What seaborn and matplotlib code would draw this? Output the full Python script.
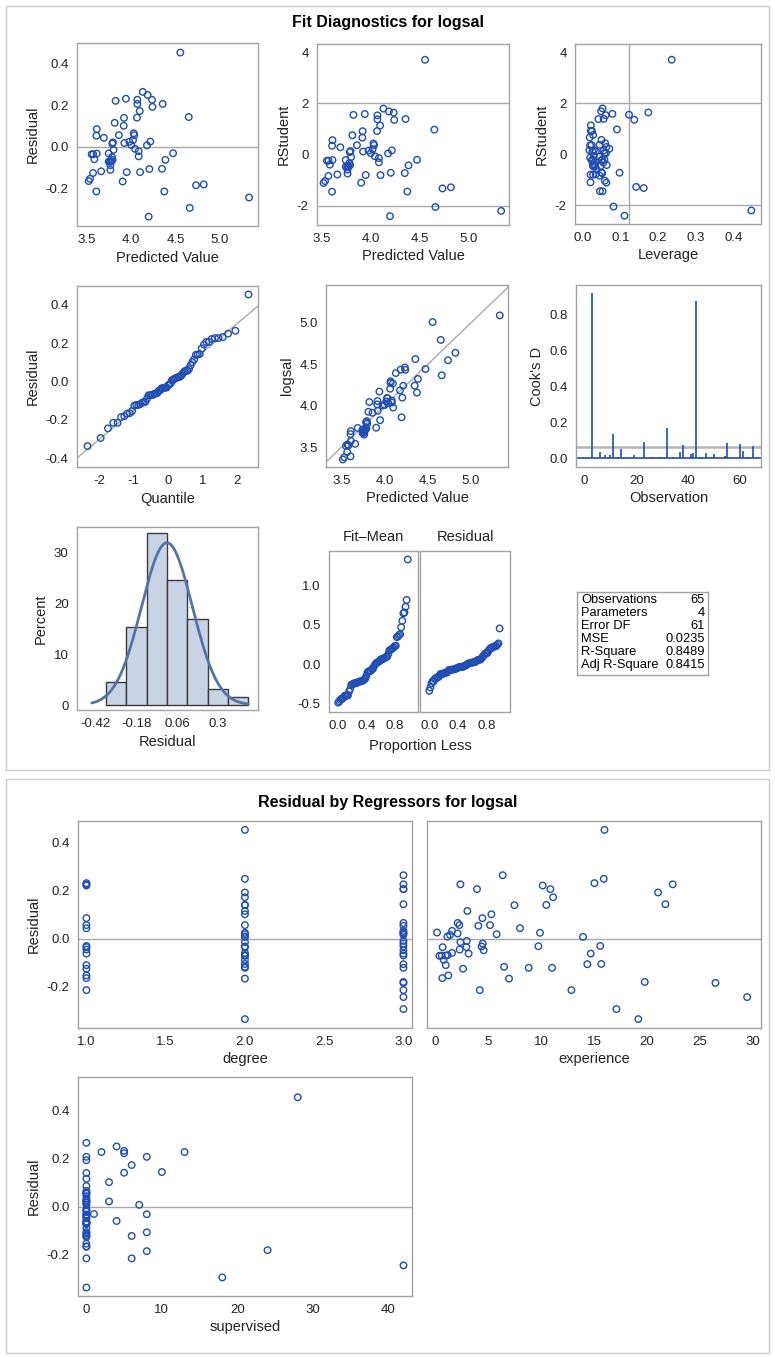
import numpy as np
import pandas as pd
import seaborn as sns
import matplotlib.pyplot as plt
from matplotlib.patches import Rectangle
from statistics import NormalDist

# ---- data (observation order 1..65) ----
residual = [0.015, -0.072, -0.244, 0.056, -0.033, 0.249, 0.115, -0.165, -0.063, -0.154,
            0.226, 0.025, 0.172, 0.231, -0.122, -0.010, -0.069, 0.053, 0.206, -0.021,
            0.140, -0.089, -0.294, -0.036, 0.085, -0.111, 0.021, -0.049, 0.139, -0.071,
            0.043, -0.336, 0.008, -0.118, -0.032, 0.101, 0.226, 0.192, -0.071, 0.056,
            -0.215, 0.206, 0.453, -0.031, -0.107, 0.024, -0.215, -0.060, -0.126, 0.143,
            -0.046, 0.065, -0.063, -0.106, -0.185, 0.018, -0.036, -0.122, 0.007, 0.221,
            0.264, 0.032, -0.167, -0.015, -0.181]
predicted = [3.786, 3.76, 5.332, 3.86, 3.61, 4.186, 3.813, 3.519, 3.79, 3.534,
             4.235, 4.216, 4.096, 3.94, 3.949, 4.043, 3.775, 3.606, 4.069, 4.084,
             4.065, 3.764, 4.661, 3.553, 3.61, 3.764, 3.794, 3.783, 3.918, 3.77,
             3.69, 4.197, 4.001, 3.66, 3.745, 3.915, 4.069, 4.24, 3.745, 4.035,
             4.374, 4.356, 4.555, 4.473, 4.205, 3.979, 3.606, 3.583, 3.568, 4.65,
             4.084, 4.028, 4.386, 4.348, 4.733, 3.922, 3.57, 4.10, 4.178, 3.824,
             4.13, 4.02, 3.903, 3.80, 4.819]
leverage = [0.026, 0.028, 0.447, 0.024, 0.028, 0.049, 0.028, 0.063, 0.027, 0.059,
            0.174, 0.018, 0.022, 0.079, 0.021, 0.030, 0.030, 0.020, 0.042, 0.020,
            0.022, 0.037, 0.082, 0.050, 0.050, 0.052, 0.055, 0.055, 0.025, 0.033,
            0.063, 0.111, 0.058, 0.035, 0.058, 0.019, 0.061, 0.137, 0.047, 0.045,
            0.046, 0.056, 0.236, 0.052, 0.050, 0.030, 0.053, 0.032, 0.045, 0.091,
            0.035, 0.060, 0.064, 0.098, 0.162, 0.035, 0.024, 0.028, 0.062, 0.123,
            0.053, 0.071, 0.021, 0.045, 0.142]
degree = [3, 2, 3, 1, 2, 2, 2, 1, 1, 1, 3, 3, 2, 1, 2, 3, 2, 3, 3, 3,
          2, 2, 3, 2, 1, 1, 3, 3, 2, 2, 1, 2, 2, 2, 3, 2, 1, 2, 3, 2,
          1, 3, 2, 1, 3, 2, 3, 2, 1, 3, 1, 3, 3, 2, 3, 2, 1, 3, 2, 1,
          3, 3, 2, 2, 3]
experience = [1.39, 0.38, 29.5, 2.27, 4.38, 15.93, 3.03, 0.66, 3.15, 1.23,
              22.46, 0.16, 11.14, 15.05, 8.83, 2.97, 1.17, 4.07, 3.94, 4.48,
              10.5, 0.79, 17.13, 2.93, 4.45, 0.98, 2.11, 4.57, 7.48, 0.6,
              8.01, 19.2, 1.14, 6.5, 9.75, 5.3, 2.37, 21.07, 0.98, 5.17,
              4.2, 10.88, 16.0, 15.6, 14.38, 9.9, 12.87, 1.58, 2.62, 21.77,
              2.3, 2.11, 14.7, 15.7, 26.5, 5.8, 0.69, 11.04, 13.97, 10.16,
              6.37, 1.58, 6.97, 2.37, 19.81]
supervised = [0, 0, 42, 0, 0, 4, 0, 0, 0, 0, 13, 0, 6, 5, 6, 0, 0, 0, 8, 0,
              5, 0, 18, 0, 0, 0, 3, 0, 0, 0, 0, 0, 0, 0, 8, 3, 2, 0, 0, 0,
              6, 0, 28, 1, 8, 0, 0, 4, 0, 10, 0, 0, 0, 0, 8, 0, 0, 0, 7, 5,
              0, 0, 0, 0, 24]

hist_edges = [-0.36, -0.24, -0.12, 0.0, 0.12, 0.24, 0.36, 0.48]
stat_labels = ["Observations", "Parameters", "Error DF", "MSE", "R-Square", "Adj R-Square"]
stat_values = ["65", "4", "61", "0.0235", "0.8489", "0.8415"]

# ---- derived regression diagnostics ----
df = pd.DataFrame({"obs": np.arange(1, len(residual) + 1), "resid": residual,
                   "pred": predicted, "lev": leverage, "degree": degree,
                   "experience": experience, "supervised": supervised})
n, p = len(df), 4
sse = (df.resid ** 2).sum()
mse = sse / (n - p)
s_i = np.sqrt((sse - df.resid ** 2 / (1 - df.lev)) / (n - p - 1))
df["rstudent"] = df.resid / (s_i * np.sqrt(1 - df.lev))
df["cooksd"] = df.resid ** 2 / (p * mse) * df.lev / (1 - df.lev) ** 2
df["logsal"] = df.pred + df.resid
df["fitmean"] = df.pred - df.logsal.mean()

nd = NormalDist()
qq = pd.DataFrame({"resid": np.sort(df.resid)})
qq["quantile"] = [nd.inv_cdf((i + 1 - 0.375) / (n + 0.25)) for i in range(n)]
prop = np.arange(n) / n

# ---- style ----
sns.set_style("white")
plt.rcParams["font.family"] = ["Liberation Sans", "DejaVu Sans"]
plt.rcParams["axes.unicode_minus"] = False

BLUE = "#1f4db3"
GRAY = "#a9a9a9"
FRAME = "#a3a3a3"
TXT = "#222222"

W, H = 775, 1358
fig = plt.figure(figsize=(W / 100, H / 100), dpi=100)


def place(l, t, r, b):
    ax = fig.add_axes([l / W, 1 - b / H, (r - l) / W, (b - t) / H])
    for s in ax.spines.values():
        s.set_color(FRAME)
        s.set_linewidth(1.0)
    ax.tick_params(direction="out", length=4, width=1, color=FRAME,
                   labelsize=9.5, labelcolor=TXT, pad=2)
    return ax


def dots(ax, x, y):
    sns.scatterplot(x=x, y=y, ax=ax, marker="o", s=22, facecolor="none",
                    edgecolor=BLUE, linewidth=1.0, legend=False, zorder=3)


def labels(ax, xl, yl):
    ax.set_xlabel(xl, fontsize=10.5, color=TXT, labelpad=3)
    ax.set_ylabel(yl, fontsize=10.5, color=TXT, labelpad=4)


# outer boxes and titles
fig.patches.append(Rectangle((6 / W, 1 - 770 / H), 763 / W, 764 / H, transform=fig.transFigure,
                             fill=False, edgecolor="#cccccc", lw=1))
fig.patches.append(Rectangle((6 / W, 1 - 1353 / H), 763 / W, 574 / H, transform=fig.transFigure,
                             fill=False, edgecolor="#cccccc", lw=1))
fig.text(388 / W, 1 - 22 / H, "Fit Diagnostics for logsal", ha="center", va="center",
         fontsize=11.5, fontweight="bold", color="black")
fig.text(388 / W, 1 - 803 / H, "Residual by Regressors for logsal", ha="center", va="center",
         fontsize=11.5, fontweight="bold", color="black")

# 1: residual vs predicted
ax = place(77, 43, 258, 226)
ax.axhline(0, color=GRAY, lw=1)
dots(ax, df.pred, df.resid)
ax.set_xlim(3.387, 5.433); ax.set_ylim(-0.381, 0.499)
ax.set_xticks([3.5, 4.0, 4.5, 5.0]); ax.set_yticks([-0.2, 0.0, 0.2, 0.4])
ax.set_yticklabels(["-0.2", "0.0", "0.2", "0.4"])
labels(ax, "Predicted Value", "Residual")

# 2: rstudent vs predicted
ax = place(317, 44, 509, 225)
for v in (-2, 2):
    ax.axhline(v, color=GRAY, lw=1)
dots(ax, df.pred, df.rstudent)
ax.set_xlim(3.452, 5.412); ax.set_ylim(-2.75, 4.32)
ax.set_xticks([3.5, 4.0, 4.5, 5.0]); ax.set_yticks([-2, 0, 2, 4])
labels(ax, "Predicted Value", "RStudent")

# 3: rstudent vs leverage
ax = place(575, 44, 761, 224)
for v in (-2, 2):
    ax.axhline(v, color=GRAY, lw=1)
ax.axvline(2 * p / n, color=GRAY, lw=1)
dots(ax, df.lev, df.rstudent)
ax.set_xlim(-0.020, 0.4725); ax.set_ylim(-2.73, 4.32)
ax.set_xticks([0.0, 0.1, 0.2, 0.3, 0.4]); ax.set_yticks([-2, 0, 2, 4])
labels(ax, "Leverage", "RStudent")

# 4: QQ plot
ax = place(77, 286, 258, 467)
qx = np.array([-2.65, 2.62])
ax.plot(qx, df.resid.mean() + df.resid.std() * qx, color=GRAY, lw=1)
dots(ax, qq["quantile"], qq["resid"])
ax.set_xlim(-2.65, 2.62); ax.set_ylim(-0.445, 0.497)
ax.set_xticks([-2, -1, 0, 1, 2]); ax.set_yticks([-0.4, -0.2, 0.0, 0.2, 0.4])
ax.set_yticklabels(["-0.4", "-0.2", "0.0", "0.2", "0.4"])
labels(ax, "Quantile", "Residual")

# 5: observed vs predicted
ax = place(326, 285, 508, 467)
ax.plot([3.2, 5.5], [3.2, 5.5], color=GRAY, lw=1)
dots(ax, df.pred, df.logsal)
ax.set_xlim(3.323, 5.427); ax.set_ylim(3.263, 5.454)
ax.set_xticks([3.5, 4.0, 4.5, 5.0]); ax.set_yticks([3.5, 4.0, 4.5, 5.0])
labels(ax, "Predicted Value", "logsal")

# 6: Cook's D
ax = place(576, 285, 761, 467)
ax.axhline(4 / n, color="#b5b5b5", lw=1.8)
ax.vlines(df.obs, 0, df.cooksd, color=BLUE, lw=1.2)
ax.axhline(0, color=BLUE, lw=1.2)
ax.set_xlim(-3.2, 68); ax.set_ylim(-0.048, 0.963)
ax.set_xticks([0, 20, 40, 60]); ax.set_yticks([0.0, 0.2, 0.4, 0.6, 0.8])
labels(ax, "Observation", "Cook's D")

# 7: histogram with normal curve
ax = place(77, 527, 258, 710)
sns.histplot(x=df.resid, bins=hist_edges, stat="percent", ax=ax, color="#c8d4e6",
             edgecolor="#3a3a3a", linewidth=1.0, alpha=1)
cx = np.linspace(-0.445, 0.48, 200)
mu, sd = df.resid.mean(), df.resid.std()
cy = 100 * 0.12 * np.exp(-0.5 * ((cx - mu) / sd) ** 2) / (sd * np.sqrt(2 * np.pi))
sns.lineplot(x=cx, y=cy, ax=ax, color="#5673a3", lw=2)
ax.set_xlim(-0.532, 0.537); ax.set_ylim(-0.98, 34.97)
ax.set_xticks([-0.42, -0.18, 0.06, 0.3]); ax.set_xticklabels(["-0.42", "-0.18", "0.06", "0.3"])
ax.set_yticks([0, 10, 20, 30])
labels(ax, "Residual", "Percent")

# 8: residual-fit spread
axa = place(329, 551, 418, 712)
axb = place(420, 551, 510, 712)
dots(axa, prop, np.sort(df.fitmean))
dots(axb, prop, np.sort(df.resid))
for a, t in ((axa, "Fit\u2013Mean"), (axb, "Residual")):
    a.set_xlim(-0.13, 1.13); a.set_ylim(-0.605, 1.434)
    a.set_xticks([0.0, 0.4, 0.8])
    a.set_yticks([-0.5, 0.0, 0.5, 1.0])
    a.set_title(t, fontsize=10.5, color=TXT, pad=7)
    a.set_xlabel(""); a.set_ylabel("")
axa.set_yticklabels(["-0.5", "0.0", "0.5", "1.0"])
axb.tick_params(axis="y", left=False, labelleft=False)
fig.text(420 / W, 1 - 746 / H, "Proportion Less", ha="center", va="center", fontsize=10.5, color=TXT)

# fit statistics table
ax = place(577, 592, 708, 675)
ax.set_xticks([]); ax.set_yticks([])
ax.set_xlim(0, 1); ax.set_ylim(len(stat_labels) + 0.25, -0.15)
for i, (lab, val) in enumerate(zip(stat_labels, stat_values)):
    ax.text(0.03, i + 0.5, lab, ha="left", va="center", fontsize=9.3, color="black")
    ax.text(0.975, i + 0.5, val, ha="right", va="center", fontsize=9.3, color="black")

# bottom: residual by regressors
ax = place(78, 821, 412, 1028)
ax.axhline(0, color=GRAY, lw=1)
dots(ax, df.degree, df.resid)
ax.set_xlim(0.947, 3.054); ax.set_ylim(-0.373, 0.49)
ax.set_xticks([1.0, 1.5, 2.0, 2.5, 3.0]); ax.set_yticks([-0.2, 0.0, 0.2, 0.4])
ax.set_yticklabels(["-0.2", "0.0", "0.2", "0.4"])
labels(ax, "degree", "Residual")

ax = place(427, 821, 761, 1028)
ax.axhline(0, color=GRAY, lw=1)
dots(ax, df.experience, df.resid)
ax.set_xlim(-0.79, 30.81); ax.set_ylim(-0.373, 0.49)
ax.set_xticks([0, 5, 10, 15, 20, 25, 30]); ax.set_yticks([])
labels(ax, "experience", "")

ax = place(78, 1077, 412, 1296)
ax.axhline(0, color=GRAY, lw=1)
dots(ax, df.supervised, df.resid)
ax.set_xlim(-1.11, 43.13); ax.set_ylim(-0.371, 0.537)
ax.set_xticks([0, 10, 20, 30, 40]); ax.set_yticks([-0.2, 0.0, 0.2, 0.4])
ax.set_yticklabels(["-0.2", "0.0", "0.2", "0.4"])
labels(ax, "supervised", "Residual")

fig.savefig("out.png", dpi=100)
